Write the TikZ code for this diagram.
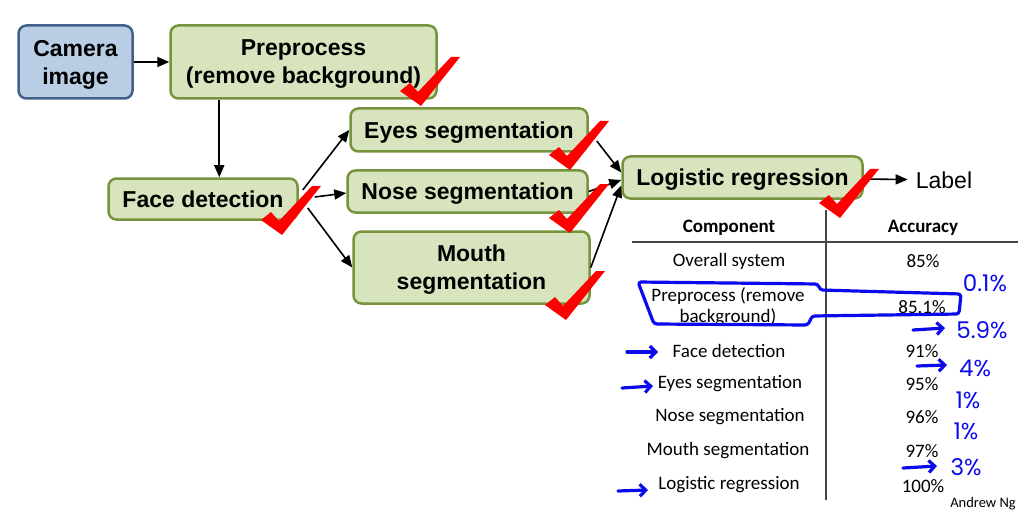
\documentclass[tikz,border=0pt]{standalone}
\usepackage{fontspec}
\setmainfont{Liberation Sans}
\newfontfamily\tablefont{Carlito}
\newfontfamily\handfont{Poppins}
\usetikzlibrary{arrows.meta}
\definecolor{boxgreen}{RGB}{215,228,189}
\definecolor{edgegreen}{RGB}{119,147,60}
\definecolor{boxblue}{RGB}{185,205,229}
\definecolor{edgeblue}{RGB}{65,97,138}
\definecolor{penblue}{RGB}{10,10,235}
\definecolor{rulegray}{RGB}{70,70,70}

\begin{document}
\begin{tikzpicture}[x=1pt,y=-1pt]
    % Stili
    \tikzstyle{stage}=[draw=edgegreen, fill=boxgreen, line width=2.5pt, rounded corners=8pt, font=\fontsize{23}{28}\selectfont\bfseries, align=center, inner sep=0pt, text depth=0pt]
    \tikzstyle{twoline}=[text depth=-2pt]
    \tikzstyle{input}=[stage, draw=edgeblue, fill=boxblue]
    \tikzstyle{flow}=[-{Triangle[length=12pt,width=10pt]}, line width=1.6pt]
    \tikzstyle{cell}=[font=\tablefont\fontsize{19}{21}\selectfont, align=center]
    \tikzstyle{headcell}=[font=\tablefont\bfseries\fontsize{19}{21}\selectfont]
    \tikzstyle{pen}=[penblue, line width=3.2pt, line cap=round, line join=round]
    \tikzstyle{penarrow}=[pen, -{Straight Barb[length=6pt,width=12pt]}]
    \tikzstyle{note}=[penblue, font=\handfont\fontsize{23}{25}\selectfont]
    \tikzset{redtick/.pic={\fill[red] (0,0) -- (-21,-15) -- (-11,-23) -- (-3,-14) -- (30,-49) -- (39,-49) -- cycle;}}

    \useasboundingbox (0,0) rectangle (1032,513);

    % Pipeline
    \node[input, twoline, minimum width=114pt, minimum height=73pt] (cam) at (75.5,62) {Camera\\image};
    \node[stage, twoline, minimum width=266pt, minimum height=73pt] (pre) at (303.5,62) {Preprocess\\(remove background)};
    \node[stage, minimum width=189pt, minimum height=41pt] (face) at (203,199) {Face detection};
    \node[stage, minimum width=237pt, minimum height=43pt] (eyes) at (469,130) {Eyes segmentation};
    \node[stage, minimum width=240pt, minimum height=42pt] (nose) at (467.5,191.5) {Nose segmentation};
    \node[stage, twoline, minimum width=236pt, minimum height=72pt] (mouth) at (471.5,267.5) {Mouth\\segmentation};
    \node[stage, minimum width=240pt, minimum height=42pt] (lr) at (742.5,177.5) {Logistic regression};
    \node[font=\fontsize{23}{28}\selectfont, inner sep=8pt] (label) at (944,180) {Label};

    % Frecce
    \draw[flow] (cam) -- (pre);
    \draw[flow] ([xshift=50pt]pre.south west) -- ([xshift=112pt]face.north west);
    \draw[flow] ([xshift=4pt,yshift=9pt]face.east) -- (eyes.west);
    \draw[flow] ([xshift=16pt,yshift=2pt]face.east) -- ([yshift=-1.5pt]nose.west);
    \draw[flow] ([xshift=9pt,yshift=-9pt]face.east) -- (mouth.west);
    \draw[flow] ([xshift=8pt,yshift=-11pt]eyes.east) -- ([yshift=5pt]lr.west);
    \draw[flow] (nose.east) -- ([yshift=-2.5pt]lr.west);
    \draw[flow] (mouth.east) -- ([yshift=-8pt]lr.west);
    \draw[flow] (lr) -- (label);

    % Tabella
    \draw[rulegray, line width=1.2pt] (632,242) -- (1018,242);
    \draw[rulegray, line width=1.2pt] (826,210) -- (826,500);
    \node[headcell] (hcomp) at (729,228) {Component};
    \node[headcell] (hacc) at (923,228) {Accuracy};
    \node[cell] (rsys) at (729,261) {Overall system};
    \node[cell] (asys) at (923,261) {85\%};
    \node[cell] (rpre) at (728,307) {Preprocess (remove\\background)};
    \node[cell] (apre) at (922,307) {85.1\%};
    \node[cell] (rface) at (729,351) {Face detection};
    \node[cell] (aface) at (922,351) {91\%};
    \node[cell] (reyes) at (730,384) {Eyes segmentation};
    \node[cell] (aeyes) at (922,384) {95\%};
    \node[cell] (rnose) at (730,417) {Nose segmentation};
    \node[cell] (anose) at (922,417) {96\%};
    \node[cell] (rmouth) at (728,451) {Mouth segmentation};
    \node[cell] (amouth) at (922,451) {97\%};
    \node[cell] (rlr) at (729,485) {Logistic regression};
    \node[cell] (alr) at (923,486) {100\%};
    \node[font=\tablefont\fontsize{14.5}{16}\selectfont] (author) at (983,504) {Andrew Ng};

    % Annotazioni a mano
    \draw[pen, rounded corners=3pt] (638,282) -- (818,284) -- (820,290) -- (961,294) -- (959,314) -- (812,316) -- (808,325) -- (654,324) -- cycle;
    \draw[penarrow] (627,352) -- (658,352);
    \draw[penarrow] (622,388) -- (653,386);
    \draw[penarrow] (618,491) -- (648,490);
    \draw[penarrow] (913,330) -- (945,328);
    \draw[penarrow] (917,366) -- (947,365);
    \draw[penarrow] (903,468) -- (937,466);
    \node[note] (n01) at (985,283) {0.1\%};
    \node[note] (n59) at (982,330) {5.9\%};
    \node[note] (n4) at (975,368) {4\%};
    \node[note] (n1a) at (968,400) {1\%};
    \node[note] (n1b) at (966,431) {1\%};
    \node[note] (n3) at (966,467) {3\%};

    % Spunte
    \pic at (421,106) {redtick};
    \pic at (282,235) {redtick};
    \pic at (570,170) {redtick};
    \pic at (570,233) {redtick};
    \pic at (566,320) {redtick};
    \pic at (840,218) {redtick};
\end{tikzpicture}
\end{document}
